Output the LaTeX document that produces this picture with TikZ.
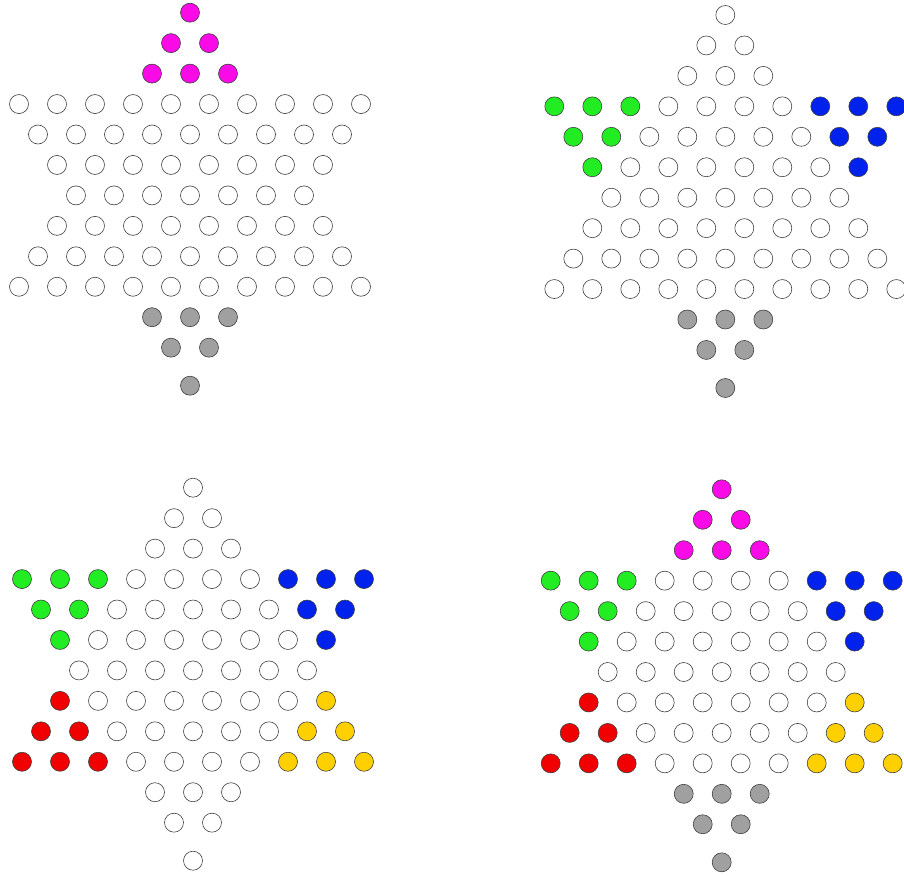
\documentclass[tikz,border=0pt]{standalone}
\usepackage{tikz}
\definecolor{pegmagenta}{RGB}{250,10,230}
\definecolor{peggreen}{RGB}{34,236,34}
\definecolor{pegblue}{RGB}{0,34,236}
\definecolor{pegred}{RGB}{240,0,0}
\definecolor{pegyellow}{RGB}{255,208,0}
\definecolor{peggray}{RGB}{160,160,160}
\tikzset{
    hole/.style={circle, draw=black!75, line width=0.6pt, inner sep=0pt, minimum size=19pt},
}
% #1 name, #2 centre x, #3 top y, #4 top, #5 bottom, #6 upper left, #7 upper right, #8 lower left, #9 lower right
\newcommand{\starboard}[9]{%
    \foreach \r/\w in {0/1,1/2,2/3,3/10,4/9,5/8,6/7,7/8,8/9,9/10,10/3,11/2,12/1}{
        \pgfmathsetmacro\yy{#3 + (\r<12 ? 30.45*\r : 373)}
        \foreach \k in {1,...,\w}{
            \pgfmathsetmacro\xx{#2 + 38*(\k - (\w+1)/2)}
            \def\holecol{white}
            \ifnum\r<3 \def\holecol{#4}\fi
            \ifnum\r>9 \def\holecol{#5}\fi
            \ifnum\r>2 \ifnum\r<6
                \ifnum\k<\numexpr\w-6\relax \def\holecol{#6}\fi
                \ifnum\k>7 \def\holecol{#7}\fi
            \fi\fi
            \ifnum\r>6 \ifnum\r<10
                \ifnum\k<\numexpr\w-6\relax \def\holecol{#8}\fi
                \ifnum\k>7 \def\holecol{#9}\fi
            \fi\fi
            \node[hole, fill=\holecol] (#1-\r-\k) at (\xx,\yy) {};
        }
    }
}

\begin{document}
\begin{tikzpicture}[x=1pt, y=-1pt]
    \useasboundingbox (0,0) rectangle (904,875);
    \starboard{tl}{190}{12.7}{pegmagenta}{peggray}{white}{white}{white}{white}
    \starboard{tr}{725.3}{15}{white}{peggray}{peggreen}{pegblue}{white}{white}
    \starboard{bl}{193}{487.7}{white}{white}{peggreen}{pegblue}{pegred}{pegyellow}
    \starboard{br}{721.7}{489.3}{pegmagenta}{peggray}{peggreen}{pegblue}{pegred}{pegyellow}
\end{tikzpicture}
\end{document}
